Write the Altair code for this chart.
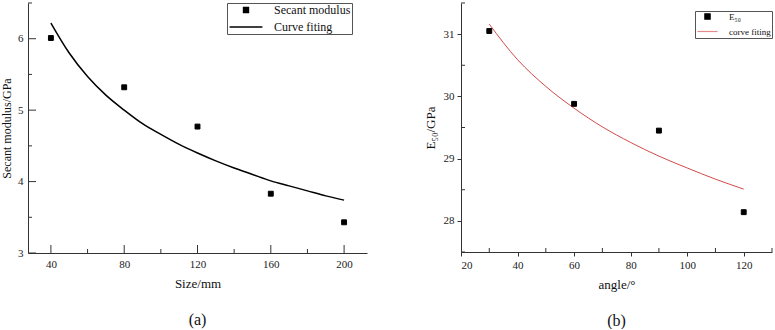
import altair as alt
import pandas as pd

# ---- panel (a): secant modulus vs specimen size ----
size_mm = [40, 80, 120, 160, 200]
secant_modulus = [6.01, 5.32, 4.77, 3.83, 3.43]

fit_size = [40, 50, 60, 70, 80, 90, 100, 110, 120, 130, 140, 150, 160, 170, 180, 190, 200]
fit_modulus = [6.22, 5.80, 5.47, 5.21, 5.00, 4.81, 4.66, 4.52, 4.40, 4.29, 4.19, 4.10,
               4.01, 3.94, 3.87, 3.80, 3.74]

size_major = [40, 80, 120, 160, 200]
size_minor = [60, 100, 140, 180]
modulus_major = [3, 4, 5, 6]
modulus_minor = [3.5, 4.5, 5.5, 6.5]

# ---- panel (b): E50 vs angle ----
angle_deg = [30, 60, 90, 120]
e50 = [31.05, 29.88, 29.45, 28.14]

fit_angle = [30, 40, 50, 60, 70, 80, 90, 100, 110, 120]
fit_e50 = [31.16, 30.59, 30.16, 29.81, 29.51, 29.26, 29.04, 28.85, 28.67, 28.51]

angle_major = [20, 40, 60, 80, 100, 120]
angle_minor = [30, 50, 70, 90, 110, 130]
e50_major = [28, 29, 30, 31]
e50_minor = [27.5, 28.5, 29.5, 30.5, 31.5]

SERIF = "Times New Roman, Liberation Serif, serif"
AXIS_COLOR = "#333333"


def tick_layers(xcol, ycol, sx, sy, x0, y0, xvals, xlen, xoff, yvals, ylen, yoff):
    """Short tick marks drawn along the bottom and left axis lines."""
    xt = alt.Chart(pd.DataFrame({xcol: xvals})).mark_tick(
        orient="vertical", size=xlen, thickness=1, color=AXIS_COLOR, opacity=1, yOffset=xoff
    ).encode(x=alt.X(f"{xcol}:Q", scale=sx), y=alt.YDatum(y0, scale=sy))
    yt = alt.Chart(pd.DataFrame({ycol: yvals})).mark_tick(
        orient="horizontal", size=ylen, thickness=1, color=AXIS_COLOR, opacity=1, xOffset=yoff
    ).encode(y=alt.Y(f"{ycol}:Q", scale=sy), x=alt.XDatum(x0, scale=sx))
    return [xt, yt]


def series_channels(names, line_path, line_color, legend):
    """Shape/fill/stroke keyed on the series name so that one legend lists the
    filled square of the measurements and the short line of the fitted curve."""
    return dict(
        shape=alt.Shape("series:N", scale=alt.Scale(domain=names, range=["square", line_path]),
                        legend=legend),
        fill=alt.Fill("series:N", scale=alt.Scale(domain=names, range=["black", "transparent"]),
                      legend=legend),
        stroke=alt.Stroke("series:N", scale=alt.Scale(domain=names, range=["black", line_color]),
                          legend=legend),
    )


# ---------------- panel (a) ----------------
pts_a = pd.DataFrame({"size": size_mm, "modulus": secant_modulus, "series": "Secant modulus"})
fit_a = pd.DataFrame({"size": fit_size, "modulus": fit_modulus})

sx_a = alt.Scale(domain=[27.5, 212.5], nice=False, zero=False)
sy_a = alt.Scale(domain=[3, 6.5], nice=False, zero=False)
names_a = ["Secant modulus", "Curve fiting"]

legend_a = alt.Legend(
    title=None, orient="none", legendX=199, legendY=0,
    strokeColor="#555555", padding=1, labelFont=SERIF, labelFontSize=12,
    labelColor="#111111", symbolSize=24, symbolOffset=12, labelOffset=22, rowPadding=5,
    symbolStrokeWidth=1.5, symbolOpacity=1,
)

points_a = alt.Chart(pts_a).mark_point(size=24, strokeWidth=1, opacity=1).encode(
    x=alt.X("size:Q", scale=sx_a, axis=alt.Axis(values=size_major, title="Size/mm", tickSize=0,
                                                   format="d", labelPadding=5, titlePadding=8)),
    y=alt.Y("modulus:Q", scale=sy_a, axis=alt.Axis(values=modulus_major, title="Secant modulus/GPa",
                                                      format="d", tickSize=0, labelPadding=5,
                                                      titlePadding=4, titleFontSize=12)),
    **series_channels(names_a, "M-6.7,0H6.7", "black", legend_a),
)
line_a = alt.Chart(fit_a).mark_line(color="black", strokeWidth=1.5, interpolate="monotone").encode(
    x=alt.X("size:Q", scale=sx_a), y=alt.Y("modulus:Q", scale=sy_a)
)
ticks_a = (
    tick_layers("size", "modulus", sx_a, sy_a, 27.5, 3.0, size_major, 8, -4, modulus_major, 8, 4)
    + tick_layers("size", "modulus", sx_a, sy_a, 27.5, 3.0, size_minor, 4, -2, modulus_minor, 4, 2)
)

panel_a = alt.layer(line_a, points_a, *ticks_a).properties(
    width=339, height=250,
    title=alt.TitleParams("(a)", orient="bottom", font=SERIF, fontSize=16, fontWeight="normal",
                          color="#111111", offset=22),
)

# ---------------- panel (b) ----------------
pts_b = pd.DataFrame({"angle": angle_deg, "e50": e50, "series": "E₅₀"})
fit_b = pd.DataFrame({"angle": fit_angle, "e50": fit_e50})

sx_b = alt.Scale(domain=[20, 130], nice=False, zero=False)
sy_b = alt.Scale(domain=[27.5, 31.5], nice=False, zero=False)
names_b = ["E₅₀", "corve fiting"]
CURVE_RED = "#d24a4a"

legend_b = alt.Legend(
    title=None, orient="none", legendX=234, legendY=8,
    strokeColor="#555555", padding=1, labelFont=SERIF, labelFontSize=9,
    labelColor="#111111", symbolSize=28, symbolOffset=7, labelOffset=17, rowPadding=5,
    symbolStrokeWidth=1.2, symbolOpacity=1,
)

points_b = alt.Chart(pts_b).mark_point(size=24, strokeWidth=1, opacity=1).encode(
    x=alt.X("angle:Q", scale=sx_b, axis=alt.Axis(values=angle_major, title="angle/°", tickSize=4,
                                                    format="d", labelPadding=3, titlePadding=8)),
    y=alt.Y("e50:Q", scale=sy_b, axis=alt.Axis(values=e50_major, title="E₅₀/GPa", format="d",
                                                  tickSize=4, labelPadding=3, titlePadding=6)),
    **series_channels(names_b, "M-3.8,0H3.8", "#e58a8a", legend_b),
)
line_b = alt.Chart(fit_b).mark_line(color=CURVE_RED, strokeWidth=1, interpolate="monotone").encode(
    x=alt.X("angle:Q", scale=sx_b), y=alt.Y("e50:Q", scale=sy_b)
)
ticks_b = tick_layers("angle", "e50", sx_b, sy_b, 20, 27.5, angle_minor, 4, -2, e50_minor, 4, 2)

panel_b = alt.layer(line_b, points_b, *ticks_b).properties(
    width=311, height=249,
    title=alt.TitleParams("(b)", orient="bottom", font=SERIF, fontSize=16, fontWeight="normal",
                          color="#111111", offset=22),
)

chart = (
    alt.hconcat(panel_a, panel_b, spacing=57)
    .resolve_scale(shape="independent", fill="independent", stroke="independent")
    .resolve_legend(shape="independent", fill="independent", stroke="independent")
    .configure(padding={"left": 0, "top": 2, "right": 0, "bottom": 0}, background="white")
    .configure_view(stroke=None)
    .configure_axis(
        grid=False, domainColor=AXIS_COLOR, domainWidth=1, tickColor=AXIS_COLOR,
        labelFont=SERIF, labelFontSize=11, labelColor="#222222",
        titleFont=SERIF, titleFontSize=13, titleFontWeight="normal", titleColor="#111111",
    )
)

chart.save("out.html", embed_options={"renderer": "svg", "actions": False})
